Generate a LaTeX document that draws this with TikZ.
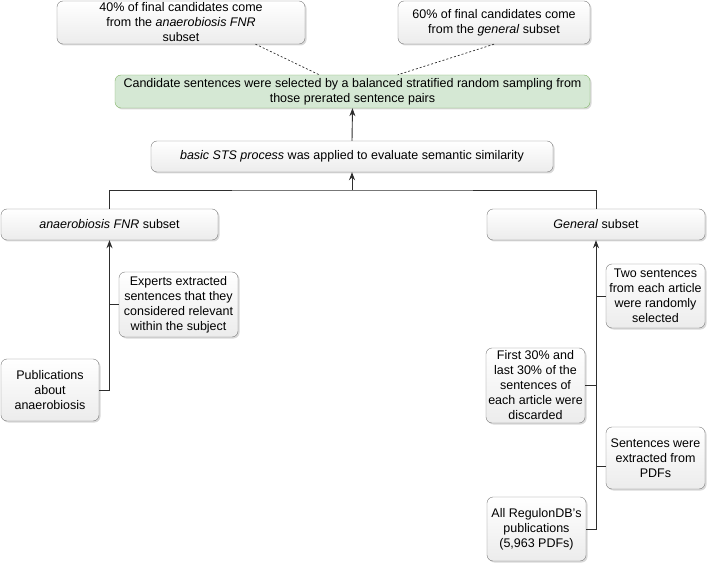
\documentclass[tikz,border=0pt]{standalone}
\usepackage{fontspec}
\setmainfont{Liberation Sans}
\usepackage{tikz}
\usetikzlibrary{calc,shadows,arrows.meta}
\definecolor{boxline}{HTML}{7A7A7A}
\definecolor{wireline}{HTML}{2E2E2E}
\definecolor{pickfill}{HTML}{D5E8D4}
\definecolor{pickline}{HTML}{82B366}
\tikzset{
	box/.style={draw=boxline, rounded corners=6pt, top color=white, bottom color=gray!15,
		align=center, inner sep=0pt, font=\fontsize{12.5}{15}\selectfont,
		drop shadow={shadow xshift=1.5pt, shadow yshift=-1.5pt, opacity=0.3, fill=gray}},
	pickbox/.style={box, draw=pickline, top color=pickfill, bottom color=pickfill},
	wire/.style={draw=wireline, line width=0.9pt},
	arr/.style={wire, -{Stealth[length=8pt,width=6pt]}},
	dashline/.style={draw=wireline, line width=0.7pt, dash pattern=on 2pt off 2pt}
}
\newcommand{\sub}[1]{\textit{#1}}

\begin{document}
\begin{tikzpicture}[x=1pt,y=-1pt]
	\useasboundingbox (0,0) rectangle (707,564);

	\node[box, minimum width=248pt, minimum height=43pt] (top40) at (181,22.5)
		{40\% of final candidates come\\from the \sub{anaerobiosis FNR}\\subset};
	\node[box, minimum width=192pt, minimum height=43pt] (top60) at (494,22.5)
		{60\% of final candidates come\\from the \sub{general} subset};
	\node[pickbox, minimum width=475pt, minimum height=33pt] (sampling) at (352.5,91.5)
		{Candidate sentences were selected by a balanced stratified random sampling from\\those prerated sentence pairs};
	\node[box, minimum width=402pt, minimum height=31pt] (sts) at (352,156.5)
		{\sub{basic STS process} was applied to evaluate semantic similarity};
	\node[box, minimum width=217pt, minimum height=31pt] (fnr) at (109.5,224.5)
		{\sub{anaerobiosis FNR} subset};
	\node[box, minimum width=218pt, minimum height=31pt] (general) at (596,224.5)
		{\sub{General} subset};
	\node[box, minimum width=119pt, minimum height=65pt] (experts) at (178.5,304.5)
		{Experts extracted\\sentences that they\\considered relevant\\within the subject};
	\node[box, minimum width=98pt, minimum height=62pt] (pubs) at (50,390)
		{Publications\\about\\anaerobiosis};
	\node[box, minimum width=99pt, minimum height=64pt] (twosent) at (655.5,296)
		{Two sentences\\from each article\\were randomly\\selected};
	\node[box, minimum width=99pt, minimum height=75pt] (first30) at (535.5,385.5)
		{First 30\% and\\last 30\% of the\\sentences of\\each article were\\discarded};
	\node[box, minimum width=99pt, minimum height=62pt] (extracted) at (655.5,458)
		{Sentences were\\extracted from\\PDFs};
	\node[box, minimum width=99pt, minimum height=64pt] (regulon) at (536.5,529)
		{All RegulonDB's\\publications\\(5,963 PDFs)};

	\coordinate (bus) at (352,190);

	\draw[dashline] ($(top40.south)!0.6!(top40.south east)$) -- ($(sampling.north west)!0.43!(sampling.north east)$);
	\draw[dashline] (top60.south) -- ($(sampling.north west)!0.595!(sampling.north east)$);
	\draw[arr] (sts.north) -- (sampling.south);
	\draw[wire] (fnr.north) |- (bus) -| (general.north);
	\draw[arr] (bus) -- (sts.south);

	\draw[arr] (pubs.east) -| (fnr.south);
	\draw[wire] (experts.west) -- (experts.west -| fnr.south);

	\draw[arr] (regulon.east) -| (general.south);
	\draw[wire] (twosent.west) -- (twosent.west -| general.south);
	\draw[wire] (first30.east) -- (first30.east -| general.south);
	\draw[wire] ($(extracted.west)+(0,8)$) -- ($(extracted.west -| general.south)+(0,8)$);
\end{tikzpicture}
\end{document}
